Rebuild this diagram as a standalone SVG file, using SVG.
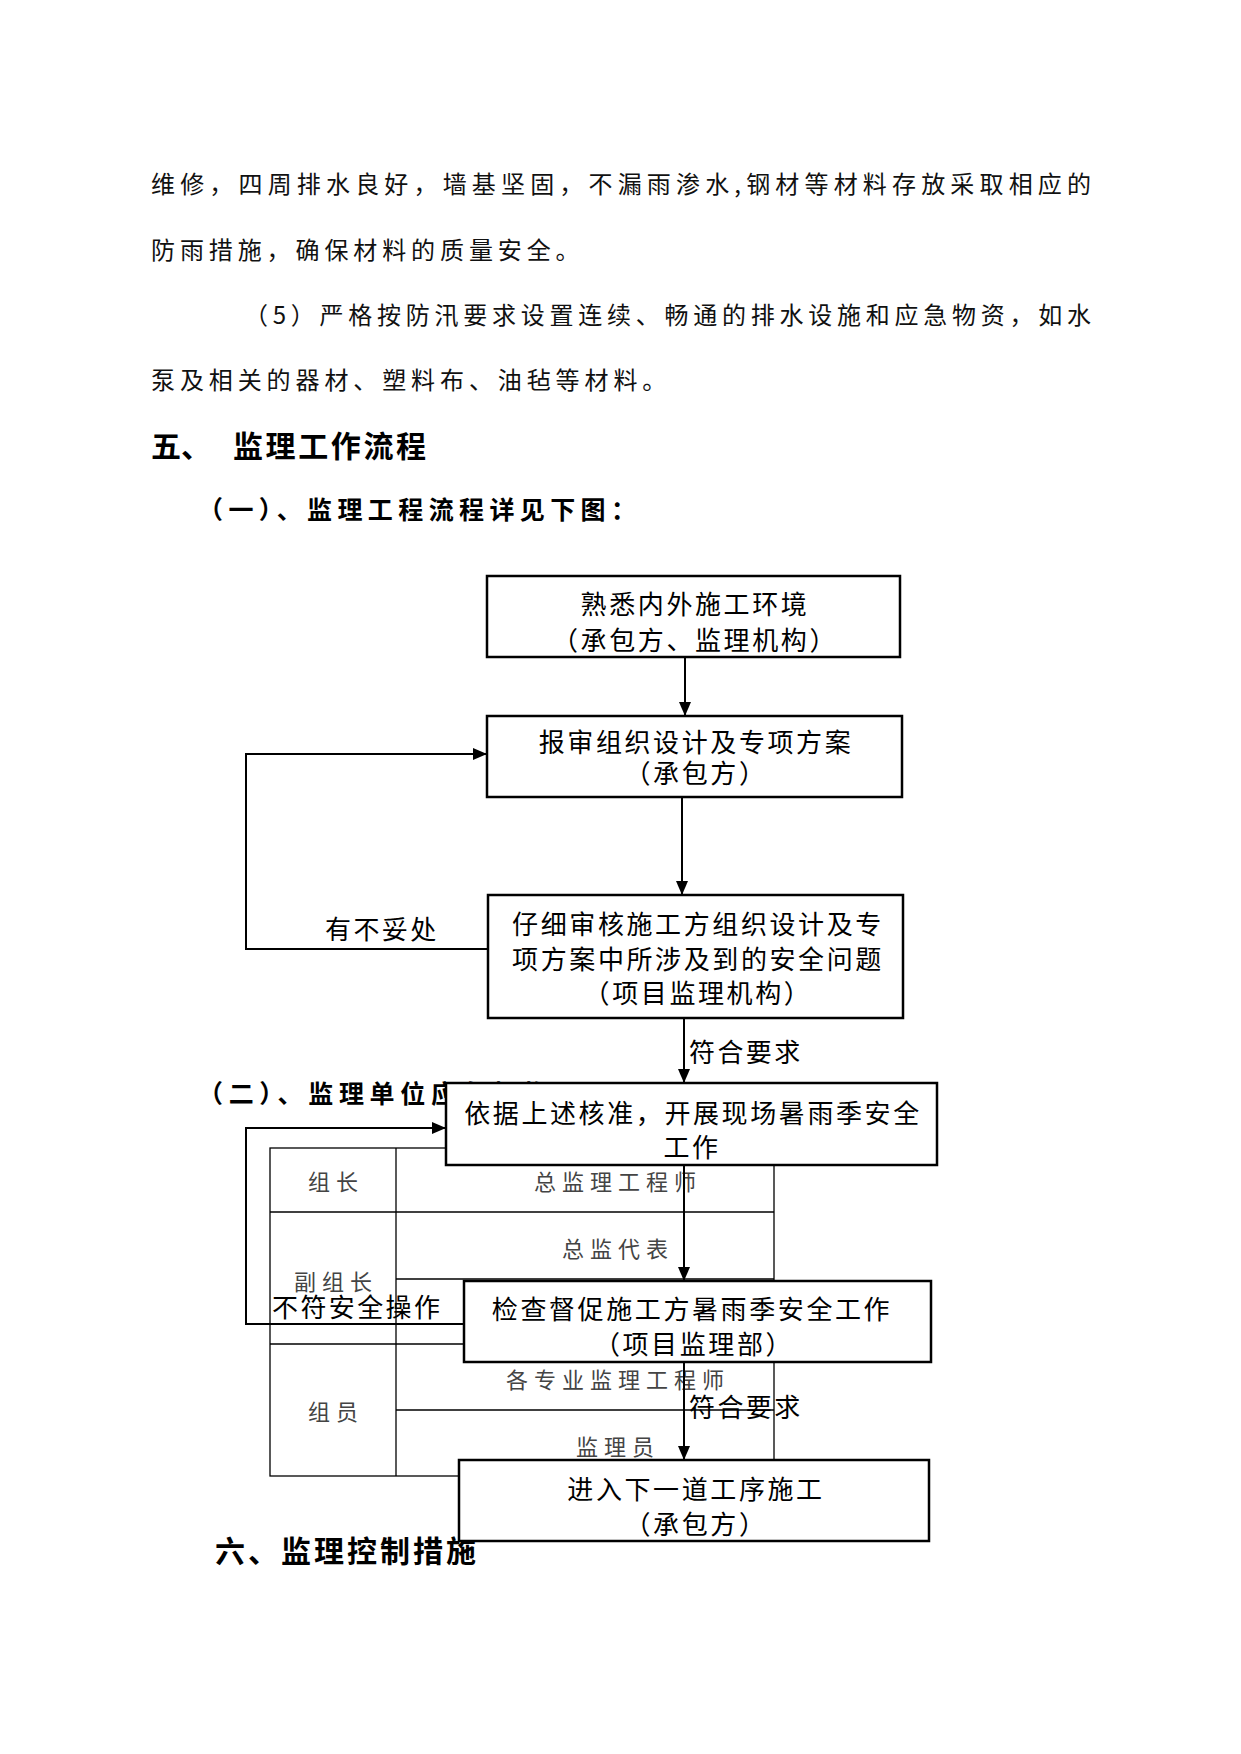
<svg xmlns="http://www.w3.org/2000/svg" width="1241" height="1754" viewBox="0 0 1241 1754">
<style>
text{font-family:"Noto Sans CJK SC","Noto Sans",sans-serif;dominant-baseline:central;fill:#000}
.body{font-size:24px;fill:#111}
.h1{font-size:30px;font-weight:bold}
.h2{font-size:25px;font-weight:bold}
.box{fill:#fff;stroke:#000;stroke-width:2.5}
.bt{font-size:26px;letter-spacing:2.6px;text-anchor:middle}
.lbl{font-size:26px;letter-spacing:2.4px}
.conn{fill:none;stroke:#000;stroke-width:2}
.tbl{fill:none;stroke:#000;stroke-width:1.3}
.tt{font-size:22px;letter-spacing:6px;text-anchor:middle;fill:#444}
</style>
<defs>
<marker id="arr" markerUnits="userSpaceOnUse" markerWidth="14" markerHeight="12" refX="14" refY="6" orient="auto">
<path d="M0,0 L14,6 L0,12 z" fill="#000"/>
</marker>
</defs>
<rect width="1241" height="1754" fill="#fff"/>

<g id="body-text">
<text class="body" x="151" y="182" textLength="940" lengthAdjust="spacing">维修，四周排水良好，墙基坚固，不漏雨渗水,钢材等材料存放采取相应的</text>
<text class="body" x="151" y="248" style="letter-spacing:4.9px">防雨措施，确保材料的质量安全。</text>
<text class="body" x="244" y="313" textLength="847" lengthAdjust="spacing">（5）严格按防汛要求设置连续、畅通的排水设施和应急物资，如水</text>
<text class="body" x="151" y="378" style="letter-spacing:4.9px">泵及相关的器材、塑料布、油毡等材料。</text>
<text class="h1" x="151" y="444">五、</text>
<text class="h1" x="233" y="444" style="letter-spacing:2.6px">监理工作流程</text>
<text class="h2" x="198" y="508" textLength="438" lengthAdjust="spacing">（一）、监理工程流程详见下图：</text>
<text class="h2" x="198" y="1092" textLength="350" lengthAdjust="spacing">（二）、监理单位应急机构</text>
<text class="h1" x="215" y="1549" style="letter-spacing:3px">六、监理控制措施</text>
</g>

<g id="table">
<rect class="tbl" x="270" y="1148" width="504" height="328"/>
<line class="tbl" x1="396" y1="1148" x2="396" y2="1476"/>
<line class="tbl" x1="270" y1="1212" x2="774" y2="1212"/>
<line class="tbl" x1="396" y1="1279" x2="774" y2="1279"/>
<line class="tbl" x1="270" y1="1344" x2="774" y2="1344"/>
<line class="tbl" x1="396" y1="1410" x2="774" y2="1410"/>
<text class="tt" x="336" y="1180">组长</text>
<text class="tt" x="336" y="1280">副组长</text>
<text class="tt" x="336" y="1410">组员</text>
<text class="tt" x="618" y="1180">总监理工程师</text>
<text class="tt" x="618" y="1247">总监代表</text>
<text class="tt" x="618" y="1378">各专业监理工程师</text>
<text class="tt" x="618" y="1445">监理员</text>
</g>

<g id="connectors">
<line class="conn" x1="685" y1="657" x2="685" y2="716" marker-end="url(#arr)"/>
<line class="conn" x1="682" y1="797" x2="682" y2="895" marker-end="url(#arr)"/>
<polyline class="conn" points="488,949 246,949 246,754 487,754" marker-end="url(#arr)"/>
<line class="conn" x1="684" y1="1018" x2="684" y2="1083" marker-end="url(#arr)"/>
<line class="conn" x1="684" y1="1165" x2="684" y2="1281" marker-end="url(#arr)"/>
<polyline class="conn" points="464,1324 246,1324 246,1128 446,1128" marker-end="url(#arr)"/>
<line class="conn" x1="684" y1="1362" x2="684" y2="1460" marker-end="url(#arr)"/>
<text class="lbl" x="325" y="927">有不妥处</text>
<text class="lbl" x="689" y="1050">符合要求</text>
<text class="lbl" x="272" y="1305">不符安全操作</text>
<text class="lbl" x="689" y="1405">符合要求</text>
</g>

<g id="n1">
<rect class="box" x="487" y="576" width="413" height="81"/>
<text class="bt" x="695" y="602">熟悉内外施工环境</text>
<text class="bt" x="695" y="638">（承包方、监理机构）</text>
</g>
<g id="n2">
<rect class="box" x="487" y="716" width="415" height="81"/>
<text class="bt" x="696" y="740">报审组织设计及专项方案</text>
<text class="bt" x="696" y="771">（承包方）</text>
</g>
<g id="n3">
<rect class="box" x="488" y="895" width="415" height="123"/>
<text class="bt" x="698" y="922">仔细审核施工方组织设计及专</text>
<text class="bt" x="698" y="957">项方案中所涉及到的安全问题</text>
<text class="bt" x="698" y="991">（项目监理机构）</text>
</g>
<g id="n4">
<rect class="box" x="446" y="1083" width="491" height="82"/>
<text class="bt" x="693" y="1111">依据上述核准，开展现场暑雨季安全</text>
<text class="bt" x="692" y="1145">工作</text>
</g>
<g id="n5">
<rect class="box" x="464" y="1281" width="467" height="81"/>
<text class="bt" x="692" y="1307">检查督促施工方暑雨季安全工作</text>
<text class="bt" x="694" y="1342">（项目监理部）</text>
</g>
<g id="n6">
<rect class="box" x="459" y="1460" width="470" height="81"/>
<text class="bt" x="696" y="1487">进入下一道工序施工</text>
<text class="bt" x="696" y="1522">（承包方）</text>
</g>
</svg>
